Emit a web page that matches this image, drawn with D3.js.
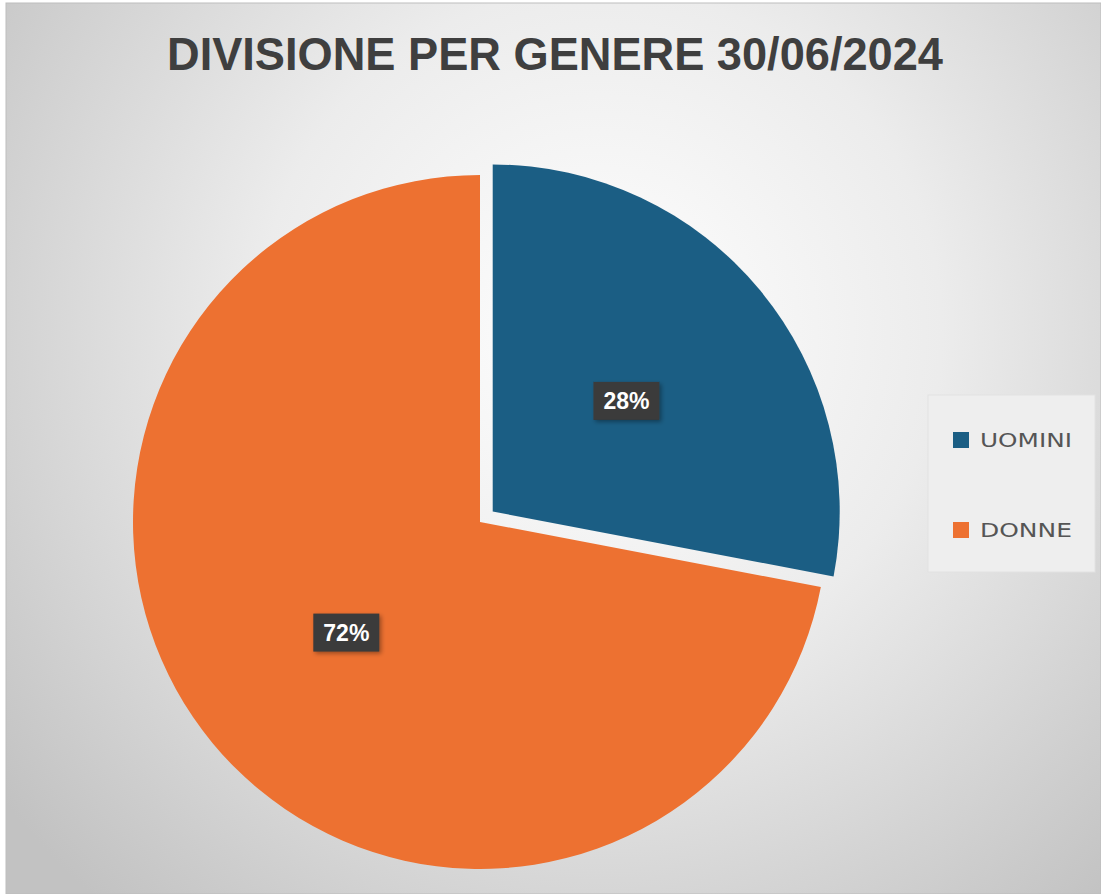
<!DOCTYPE html>
<html><head><meta charset="utf-8">
<script src="https://cdn.jsdelivr.net/npm/d3@7"></script>
<style>html,body{margin:0;padding:0;background:#fff;}svg{display:block;}</style>
</head><body>
<svg id="c" width="1101" height="894"></svg>
<script>
const categories = ["UOMINI", "DONNE"];
const values = [28, 72];
const colors = ["#1b5e84", "#ed7131"];
const title = "DIVISIONE PER GENERE 30/06/2024";

const svg = d3.select("#c");
const defs = svg.append("defs");
const rg = defs.append("radialGradient").attr("id","bg")
  .attr("gradientUnits","userSpaceOnUse").attr("cx",600).attr("cy",330).attr("r",760);
rg.append("stop").attr("offset","0").attr("stop-color","#ffffff");
rg.append("stop").attr("offset","0.45").attr("stop-color","#ececec");
rg.append("stop").attr("offset","1").attr("stop-color","#c2c2c2");
const sh = defs.append("filter").attr("id","sh").attr("x","-20%").attr("y","-20%").attr("width","140%").attr("height","140%");
sh.append("feDropShadow").attr("dx",2).attr("dy",2).attr("stdDeviation",2).attr("flood-color","#000").attr("flood-opacity",0.35);

svg.append("rect").attr("width",1101).attr("height",894).attr("fill","#ffffff");
svg.append("rect").attr("x",6).attr("y",3).attr("width",1095).attr("height",891)
  .attr("fill","url(#bg)").attr("stroke","#bdbdbd").attr("stroke-width",1);

svg.append("text").attr("x",555).attr("y",70).attr("text-anchor","middle")
  .attr("font-family","Liberation Sans, Arial, sans-serif").attr("font-weight","bold")
  .attr("font-size",46).attr("fill","#3f3f3f").attr("textLength",776).attr("lengthAdjust","spacingAndGlyphs")
  .text(title);

const cx = 480, cy = 522, R = 347, explode = 16.5;
const pie = d3.pie().sort(null).value(d => d)(values);
const arc = d3.arc().innerRadius(0).outerRadius(R);
const g = svg.append("g").attr("transform", `translate(${cx},${cy})`);
pie.forEach((p, i) => {
  const mid = (p.startAngle + p.endAngle) / 2;
  const off = i === 0 ? explode : 0;
  const dx = Math.sin(mid) * off, dy = -Math.cos(mid) * off;
  const sg = g.append("g").attr("transform", `translate(${dx},${dy})`);
  sg.append("path").attr("d", arc(p)).attr("fill", colors[i]);
  const c = arc.centroid(p);
  const lg = sg.append("g").attr("transform", `translate(${c[0]},${c[1]})`);
  lg.append("rect").attr("x",-33).attr("y",-19).attr("width",66).attr("height",38)
    .attr("fill","#3a3a3a").attr("filter","url(#sh)");
  lg.append("text").attr("text-anchor","middle").attr("dy","0.36em")
    .attr("font-family","Liberation Sans, Arial, sans-serif").attr("font-weight","bold")
    .attr("font-size",23).attr("fill","#ffffff").text(values[i] + "%");
});

const leg = svg.append("g");
leg.append("rect").attr("x",928).attr("y",395).attr("width",167).attr("height",177)
  .attr("fill","#eeeeee").attr("stroke","#e2e2e2");
categories.forEach((cat, i) => {
  const y = 440 + i * 90;
  leg.append("rect").attr("x",953).attr("y",y-8).attr("width",16).attr("height",16).attr("fill",colors[i]);
  leg.append("text").attr("x",980).attr("y",y).attr("dy","0.36em")
    .attr("font-family","DejaVu Sans, sans-serif").attr("font-size",19).attr("fill","#555555")
    .attr("textLength",92).attr("lengthAdjust","spacingAndGlyphs").text(cat);
});
</script>
</body></html>
